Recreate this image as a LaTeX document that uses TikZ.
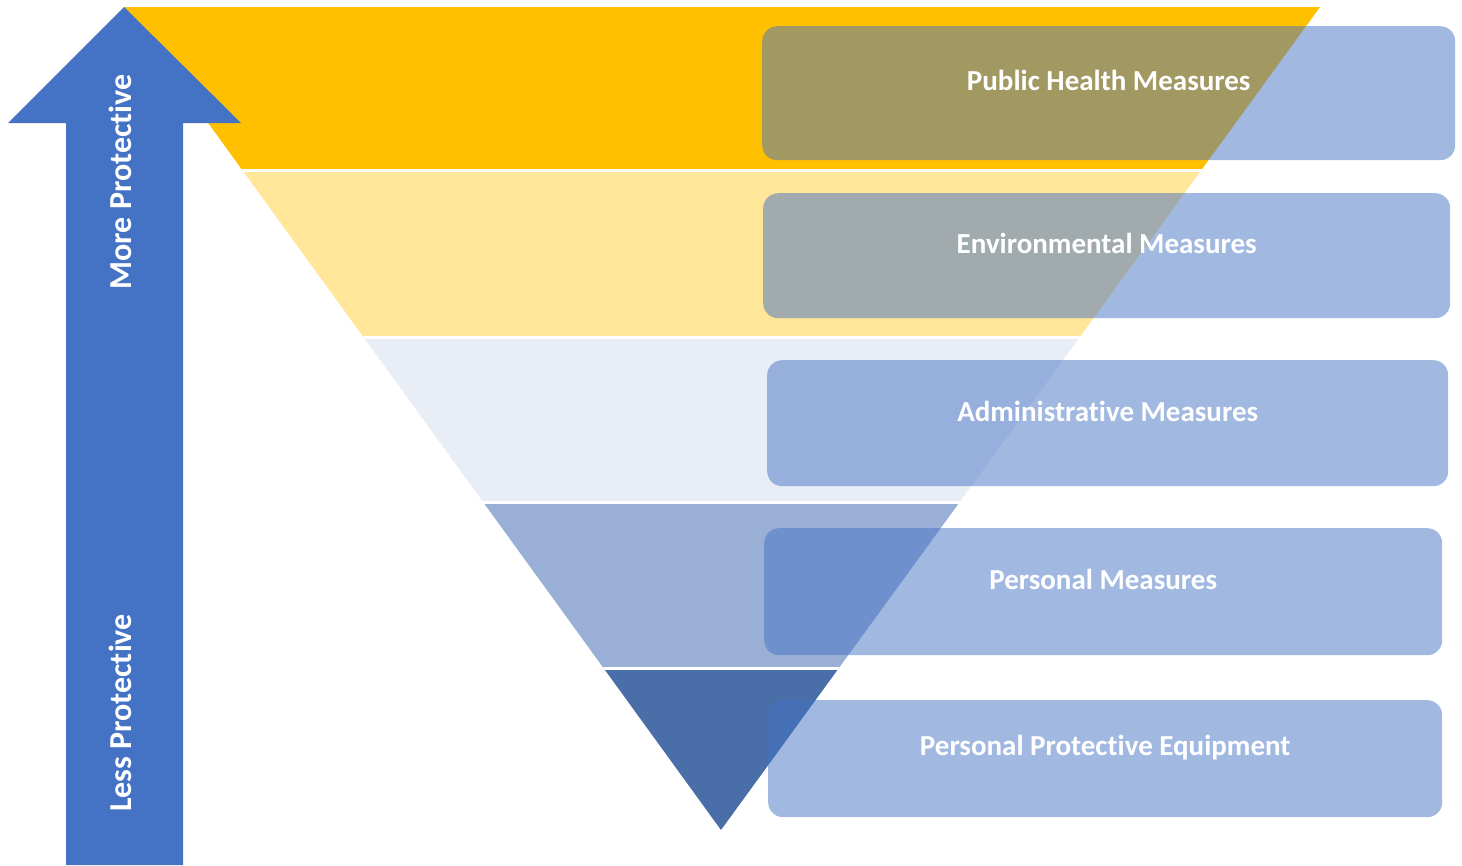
\documentclass[tikz,border=0pt]{standalone}
\usepackage{fontspec}
\setsansfont{Carlito}[Ligatures=NoCommon]
\usepackage{tikz}
\usetikzlibrary{positioning}
\definecolor{arrowblue}{HTML}{4472C4}
\definecolor{boxblue}{HTML}{4472C4}
\definecolor{bandA}{HTML}{FFC000}
\definecolor{bandB}{HTML}{FFE699}
\definecolor{bandC}{HTML}{E9EEF6}
\definecolor{bandD}{HTML}{9AAFD6}
\definecolor{bandE}{HTML}{4A6EA7}

\begin{document}
\begin{tikzpicture}[x=1pt,y=-1pt,font=\sffamily\bfseries]
    \tikzstyle{measure}=[fill=boxblue, fill opacity=0.5, rounded corners=15pt, anchor=north west, inner sep=0pt]
    \tikzstyle{boxtext}=[text=white, font=\sffamily\bfseries\fontsize{29}{34}\selectfont]
    \tikzstyle{arrowtext}=[text=white, rotate=90, font=\sffamily\bfseries\fontsize{32}{38}\selectfont]
    \useasboundingbox (0,0) rectangle (1462,865);

    % the inverted triangle in five bands
    \begin{scope}
        \clip (124,7) -- (1320,7) -- (721,830) -- cycle;
        \foreach \ya/\yb/\col in {7/171/bandA, 171/338/bandB, 338/503/bandC, 503/669/bandD, 669/830/bandE}
            \fill[\col] (0,\ya) rectangle (1462,\yb);
        \foreach \y in {170.5,337.5,502.5,668.5}
            \draw[white, line width=3pt] (0,\y) -- (1462,\y);
    \end{scope}

    % the big arrow
    \fill[arrowblue] (66,865) -- (66,123) -- (8,123) -- (124,7) -- (241,123) -- (183,123) -- (183,865) -- cycle;
    \node[arrowtext] (more) at (120,182) {More Protective};
    \node[arrowtext] (less) at (120,713) {Less Protective};

    % the measures
    \node[measure, minimum width=693pt, minimum height=134pt] (public) at (762,26) {};
    \node[measure, minimum width=687pt, minimum height=125pt] (environ) at (763,193) {};
    \node[measure, minimum width=681pt, minimum height=126pt] (admin) at (767,360) {};
    \node[measure, minimum width=678pt, minimum height=127pt] (personal) at (764,528) {};
    \node[measure, minimum width=674pt, minimum height=117pt] (ppe) at (768,700) {};

    \node[boxtext] (publictext) at ([yshift=13pt]public.center) {Public Health Measures};
    \node[boxtext] (environtext) at ([yshift=12pt]environ.center) {Environmental Measures};
    \node[boxtext] (admintext) at ([yshift=12pt]admin.center) {Administrative Measures};
    \node[boxtext] (personaltext) at ([yshift=12pt]personal.center) {Personal Measures};
    \node[boxtext] (ppetext) at ([yshift=11pt]ppe.center) {Personal Protective Equipment};
\end{tikzpicture}
\end{document}
